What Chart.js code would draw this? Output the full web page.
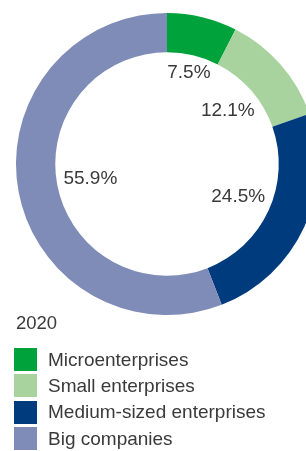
<!DOCTYPE html>
<html>
<head>
<meta charset="utf-8">
<script src="https://cdn.jsdelivr.net/npm/chart.js@4/dist/chart.umd.min.js"></script>
<style>
  html, body { margin: 0; padding: 0; background: #fff; overflow: hidden; }
  body { width: 306px; height: 451px; position: relative; font-family: "Liberation Sans", Arial, sans-serif; color: #3a3a3a; }
  #wrap { position: absolute; left: 0; top: 0; width: 334px; height: 328px; }
  #year { position: absolute; left: 16px; top: 312px; font-size: 18.5px; line-height: 22px; }
  #legend { position: absolute; left: 14px; top: 348px; margin: 0; padding: 0; list-style: none; }
  #legend li { display: flex; align-items: center; height: 23px; margin-bottom: 3.4px; font-size: 19px; }
  #legend span.box { display: inline-block; width: 23px; height: 23px; margin-right: 11px; }
</style>
</head>
<body>
<div id="wrap"><canvas id="share-chart" width="334" height="328"></canvas></div>
<div id="year"></div>
<ul id="legend"></ul>
<script>
// Data
var yearLabel = '2020';
var categories = ['Microenterprises', 'Small enterprises', 'Medium-sized enterprises', 'Big companies'];
var shares = [7.5, 12.1, 24.5, 55.9];
var colors = ['#00a33b', '#a9d39e', '#003c7d', '#7f8cb8'];

// Percent labels sitting just inside the hole
var innerLabels = {
  id: 'innerLabels',
  afterDatasetsDraw: function(chart) {
    var ctx = chart.ctx;
    var meta = chart.getDatasetMeta(0);
    ctx.save();
    ctx.font = '19px "Liberation Sans", Arial, sans-serif';
    ctx.fillStyle = '#3a3a3a';
    ctx.textAlign = 'center';
    ctx.textBaseline = 'middle';
    meta.data.forEach(function(arc, i) {
      var p = arc.getProps(['x', 'y', 'startAngle', 'endAngle', 'innerRadius']);
      var mid = (p.startAngle + p.endAngle) / 2;
      var txt = shares[i].toFixed(1) + '%';
      var w = ctx.measureText(txt).width;
      var h = 14;
      var c = Math.cos(mid), s = Math.sin(mid);
      var r = p.innerRadius - 6 - (Math.abs(c) * w / 2 + Math.abs(s) * h / 2);
      ctx.fillText(txt, p.x + c * r, p.y + s * r);
    });
    ctx.restore();
  }
};

var ctx = document.getElementById('share-chart').getContext('2d');
var shareChart = new Chart(ctx, {
  type: 'doughnut',
  data: {
    labels: categories,
    datasets: [{
      data: shares,
      backgroundColor: colors,
      borderWidth: 0
    }]
  },
  options: {
    responsive: false,
    animation: false,
    cutout: '74%',
    layout: { padding: { left: 16, right: 16, top: 13, bottom: 13 } },
    plugins: {
      legend: { display: false },
      tooltip: { enabled: false }
    }
  },
  plugins: [innerLabels]
});

// Legend in html
document.getElementById('year').textContent = yearLabel;
var $legend = document.getElementById('legend');
categories.forEach(function(name, i) {
  var li = document.createElement('li');
  var box = document.createElement('span');
  box.className = 'box';
  box.style.background = colors[i];
  li.appendChild(box);
  li.appendChild(document.createTextNode(name));
  $legend.appendChild(li);
});
</script>
</body>
</html>
